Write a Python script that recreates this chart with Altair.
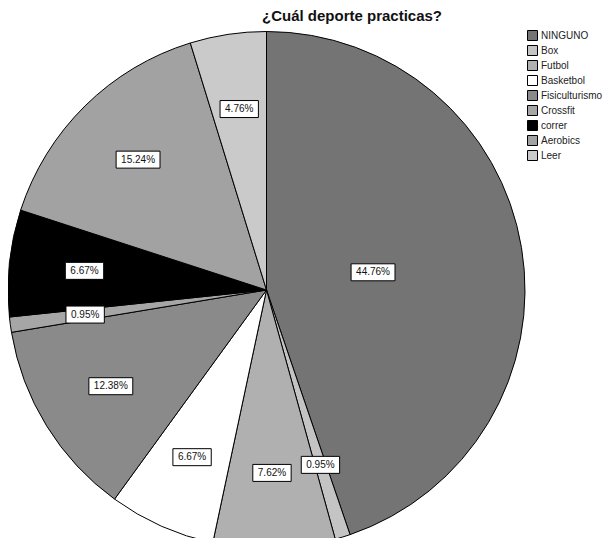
import altair as alt
import pandas as pd

categories = ["NINGUNO", "Box", "Futbol", "Basketbol", "Fisiculturismo",
              "Crossfit", "correr", "Aerobics", "Leer"]
counts = [47, 1, 8, 7, 13, 1, 7, 16, 5]
grays = ["#747474", "#c4c4c4", "#b0b0b0", "#ffffff", "#8a8a8a",
         "#a6a6a6", "#000000", "#a2a2a2", "#cacaca"]
title_text = "¿Cuál deporte practicas?"

df = pd.DataFrame({"category": categories, "count": counts,
                   "idx": list(range(len(categories)))})

CX, CY, R = 258.5, 282, 258.5

base = alt.Chart(df)

pie = base.mark_arc(outerRadius=R, stroke="black", strokeWidth=1).encode(
    theta=alt.Theta("count:Q", stack=True),
    order=alt.Order("idx:Q"),
    x=alt.value(CX),
    y=alt.value(CY),
    color=alt.Color(
        "category:N",
        scale=alt.Scale(domain=categories, range=grays),
        sort=categories,
        legend=alt.Legend(
            title=None, orient="none", legendX=519, legendY=22,
            symbolType="square", symbolSize=100, symbolStrokeColor="black",
            symbolStrokeWidth=1, labelFontSize=10, labelFont="Liberation Sans",
            labelColor="#222", rowPadding=0, labelOffset=3, padding=0,
            labelLimit=200,
        ),
    ),
)

lab = base.transform_joinaggregate(total="sum(count)").transform_window(
    cum="sum(count)", sort=[alt.SortField("idx")], frame=[None, 0]
).transform_calculate(
    ang="(datum.cum - datum.count/2)/datum.total*2*PI",
    rr="datum.category == 'NINGUNO' ? 108 : 183",
    label="format(datum.count/datum.total*100, '.2f') + '%'",
).transform_calculate(
    px=f"{CX} + datum.rr*sin(datum.ang)",
    py=f"{CY} - datum.rr*cos(datum.ang)",
    w="5.56*(length(datum.label)-2) + 2.78 + 8.89 + 10",
).transform_calculate(
    x1="datum.px - datum.w/2", x2="datum.px + datum.w/2",
    y1="datum.py - 8.5", y2="datum.py + 8.5",
)

boxes = lab.mark_rect(fill="white", stroke="black", strokeWidth=1).encode(
    x=alt.X("x1:Q", scale=None), x2="x2:Q",
    y=alt.Y("y1:Q", scale=None), y2="y2:Q",
)

texts = lab.mark_text(fontSize=10, font="Liberation Sans", color="#111").encode(
    x=alt.X("px:Q", scale=None), y=alt.Y("py:Q", scale=None),
    text="label:N",
)

title = alt.Chart(pd.DataFrame({"t": [title_text]})).mark_text(
    fontSize=15, fontWeight="bold", font="Liberation Sans", color="#111"
).encode(x=alt.value(344), y=alt.value(8), text="t:N")

chart = alt.layer(pie, boxes, texts, title).properties(
    width=599, height=530, padding=0,
    autosize=alt.AutoSizeParams(type="none"),
).configure_view(stroke=None)

chart.save("out.html", embed_options={"renderer": "svg", "actions": False})
